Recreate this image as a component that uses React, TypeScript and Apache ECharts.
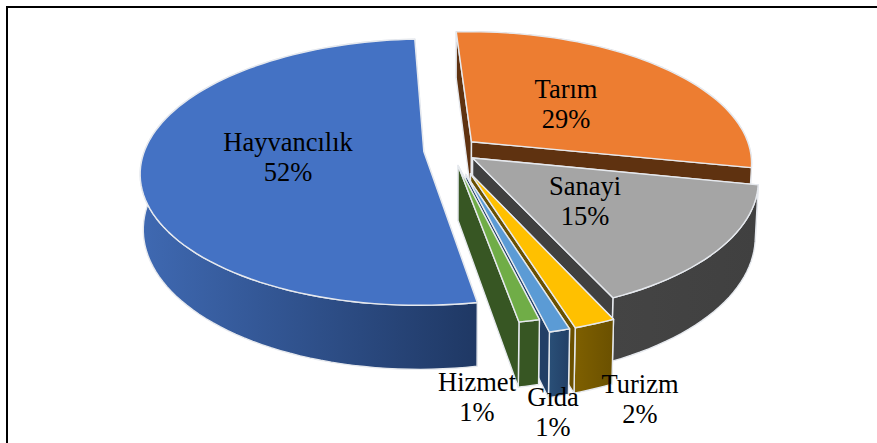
import React, { useEffect, useRef } from "react";
import * as echarts from "echarts";

const categories = ["Tarım", "Sanayi", "Turizm", "Gıda", "Hizmet", "Hayvancılık"];
const shares = [29, 15, 2, 1, 1, 52];
const topColors = ["#ED7D31", "#A5A5A5", "#FFC000", "#5B9BD5", "#70AD47", "#4472C4"];
const sideLeft = ["#6B3A14", "#444444", "#7F6000", "#2A5078", "#375623", "#3F69B2"];
const sideRight = ["#5F3210", "#404040", "#6A5000", "#223F66", "#375623", "#1F3864"];
const explode = [0.098, 0.098, 0.19, 0.19, 0.12, 0.098];
const labelAt = [[566, 104], [585, 201], [640, 399], [553, 412], [477, 397], [288, 157]];

const W = 877, H = 443;
const CX = 451, CY = 150, RX = 279, RY = 129.5, K = 0.155, DEPTH = 54, SHRINK = 0.99;
const START = -3;

const total = shares.reduce((a, b) => a + b, 0);
const pt = (deg: number, r: number, ox: number, oy: number) => {
  const a = (deg * Math.PI) / 180;
  const u = r * Math.sin(a) + ox, v = r * Math.cos(a) + oy;
  const s = 1 / (1 + K * v);
  return { x: CX + RX * u * s, y: CY - RY * v * s, s };
};
const drop = (p: { x: number; y: number; s: number }) => [CX + (p.x - CX) * SHRINK, p.y + DEPTH * p.s];
const flat = (p: { x: number; y: number }) => [p.x, p.y];
const facesViewer = (normalDeg: number) => Math.cos((normalDeg * Math.PI) / 180) < 0;

function renderItem(params: any, api: any) {
  const i = params.dataIndex;
  const before = shares.slice(0, i).reduce((a, b) => a + b, 0);
  const a0 = START + (before / total) * 360;
  const a1 = a0 + (shares[i] / total) * 360;
  const mid = (((a0 + a1) / 2) * Math.PI) / 180;
  const ox = explode[i] * Math.sin(mid), oy = explode[i] * Math.cos(mid);
  const steps = Math.max(6, Math.ceil((a1 - a0) / 2));
  const arc: any[] = [];
  for (let k = 0; k <= steps; k++) arc.push(pt(a0 + ((a1 - a0) * k) / steps, 1, ox, oy));
  const apex = pt(0, 0, ox, oy);
  const stroke = { stroke: "#E6E9EE", lineWidth: 1.4, lineJoin: "round" };
  const grad = {
    type: "linear", x: 0, y: 0, x2: 1, y2: 0,
    colorStops: [{ offset: 0, color: sideLeft[i] }, { offset: 1, color: sideRight[i] }],
  };
  const wall = (pts: number[][], fill: any) => ({
    type: "polygon", shape: { points: pts }, style: { fill, ...stroke },
  });
  const first = arc[0], last = arc[arc.length - 1];
  const outer = wall([...arc.map(flat), ...arc.slice().reverse().map(drop)], grad);
  const wallA = wall([flat(apex), flat(first), drop(first), drop(apex)], sideRight[i]);
  const wallB = wall([flat(apex), flat(last), drop(last), drop(apex)], sideRight[i]);
  const aFront = facesViewer(a0 - 90), bFront = facesViewer(a1 + 90);
  const children = [
    ...(aFront ? [] : [wallA]),
    ...(bFront ? [] : [wallB]),
    outer,
    ...(aFront ? [wallA] : []),
    ...(bFront ? [wallB] : []),
    wall([flat(apex), ...arc.map(flat)], topColors[i]),
  ];
  return { type: "group", children };
}

export default function App() {
  const ref = useRef<HTMLDivElement>(null);
  useEffect(() => {
    document.body.style.margin = "0";
    const chart = echarts.init(ref.current!, undefined, { renderer: "svg" });
    chart.setOption({
      animation: false,
      backgroundColor: "#FFFFFF",
      series: [
        {
          type: "custom",
          coordinateSystem: "none",
          renderItem,
          data: shares.map((v, i) => ({ name: categories[i], value: v })),
          silent: true,
        },
      ],
      graphic: [
        {
          type: "polyline",
          shape: { points: [[7, H + 4], [7, 7], [W + 4, 7]] },
          style: { stroke: "#000", lineWidth: 2, fill: "none" },
        },
        ...categories.map((c, i) => ({
          type: "text",
          x: labelAt[i][0],
          y: labelAt[i][1],
          z: 10,
          style: {
            text: `${c}\n${shares[i]}%`,
            fill: "#000",
            font: '26.5px "Liberation Serif"',
            lineHeight: 30,
            align: "center",
            verticalAlign: "middle",
          },
        })),
      ],
    });
    return () => chart.dispose();
  }, []);
  return <div ref={ref} style={{ width: W, height: H }} />;
}
